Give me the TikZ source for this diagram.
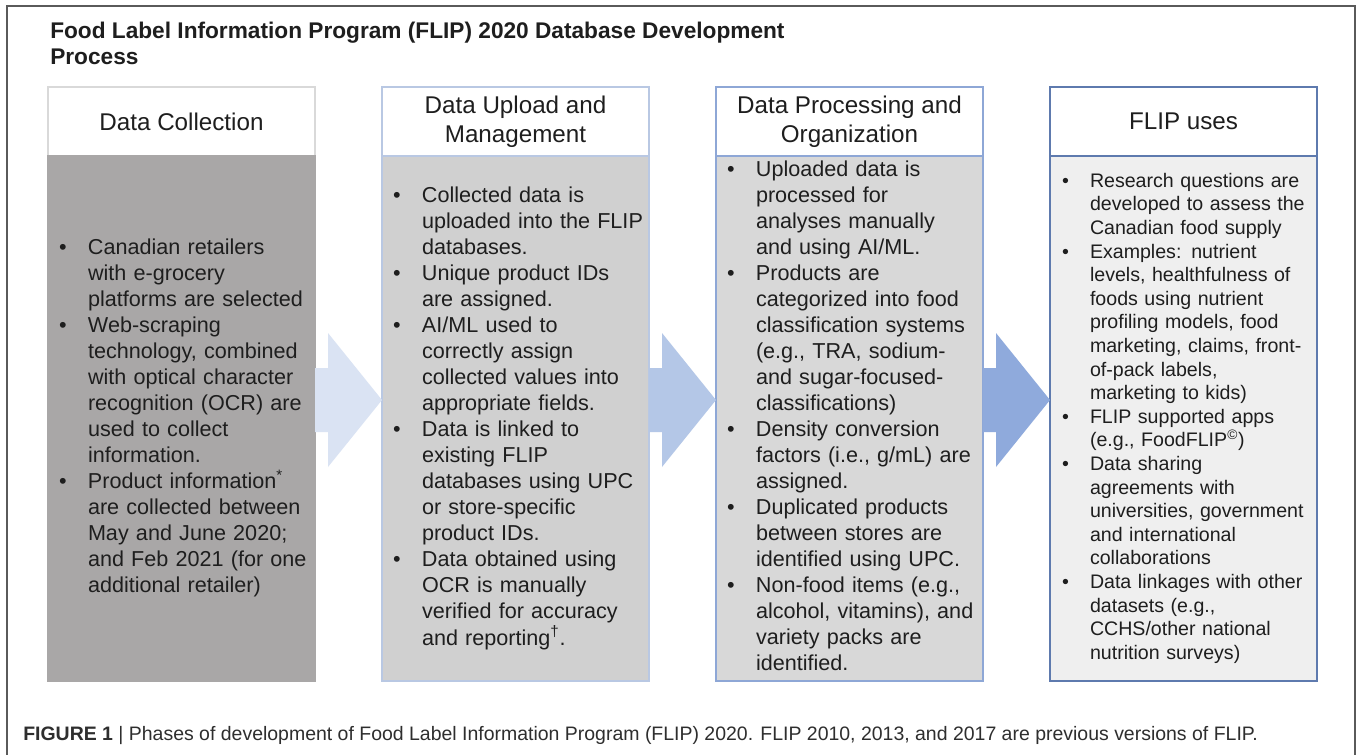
\documentclass[tikz,border=0pt]{standalone}
\usepackage{fontspec}
\setmainfont{Liberation Sans}
\usetikzlibrary{positioning,calc}

\definecolor{framegray}{HTML}{5A5A5A}
\definecolor{inkdark}{HTML}{1E1E1E}
\definecolor{capgray}{HTML}{2E2E2E}
\definecolor{collectfill}{HTML}{A9A7A7}
\definecolor{collectline}{HTML}{D9D9D9}
\definecolor{uploadfill}{HTML}{D0D0D0}
\definecolor{uploadline}{HTML}{B9C8E3}
\definecolor{processfill}{HTML}{D8D8D8}
\definecolor{processline}{HTML}{8EA7D6}
\definecolor{usesfill}{HTML}{EFEFEF}
\definecolor{usesline}{HTML}{5E7AAE}
\definecolor{flowA}{HTML}{DAE3F3}
\definecolor{flowB}{HTML}{B4C7E7}
\definecolor{flowC}{HTML}{8FAADC}

\newcommand\titlesize{\fontsize{17}{19.5}\selectfont}
\newcommand\headsize{\fontsize{18.15}{21.8}\selectfont}
\newcommand\bodysize{\fontsize{16.2}{19.5}\selectfont}
\newcommand\usessize{\fontsize{14.7}{17.7}\selectfont}
\newcommand\capsize{\fontsize{14.6}{17}\selectfont}

\begin{document}
\begin{tikzpicture}[
  x=0.75pt,y=-0.75pt,
  node distance=0pt and 50.25pt,
  head/.style={draw,fill=white,line width=0.9pt,outer sep=0pt,inner sep=0pt,minimum width=200.25pt,minimum height=51.75pt,align=center,font=\headsize,text=inkdark},
  body/.style={draw,line width=0.9pt,outer sep=0pt,inner xsep=8.25pt,inner ysep=0pt,minimum width=200.25pt,minimum height=393.75pt,text width=183.75pt,align=left,font=\bodysize,text=inkdark}
]
  \useasboundingbox (0,0) rectangle (1357,754);
  \fill[white] (0,0) rectangle (1357,754);
  \draw[framegray,line width=1.1pt] (7,760) -- (7,6) -- (1355,6) -- (1355,760);

  \node[anchor=north west,align=left,inner sep=0pt,font=\titlesize\bfseries,text=inkdark] (title) at (50,22)
    {Food Label Information Program (FLIP) 2020 Database Development\\Process};

  % phase headers
  \node[head,draw=collectline] (head1) at (181.5,121.5) {Data Collection};
  \node[head,draw=uploadline,right=of head1] (head2) {Data Upload and\\Management};
  \node[head,draw=processline,right=of head2] (head3) {Data Processing and\\Organization};
  \node[head,draw=usesline,right=of head3] (head4) {FLIP uses};

  % phase contents
  \node[body,fill=collectfill,draw=collectfill,below=of head1] (body1) {\noindent
    \begin{tabular}{@{}p{21.75pt}@{}l@{}}
    • & Canadian retailers\\
      & with e-grocery\\
      & platforms are selected\\
    • & Web-scraping\\
      & technology, combined\\
      & with optical character\\
      & recognition (OCR) are\\
      & used to collect\\
      & information.\\
    • & Product information\textsuperscript{*}\\
      & are collected between\\
      & May and June 2020;\\
      & and Feb 2021 (for one\\
      & additional retailer)
    \end{tabular}};
  \node[body,fill=uploadfill,draw=uploadline,below=of head2] (body2) {\noindent
    \begin{tabular}{@{}p{21.75pt}@{}l@{}}
    • & Collected data is\\
      & uploaded into the FLIP\\
      & databases.\\
    • & Unique product IDs\\
      & are assigned.\\
    • & AI/ML used to\\
      & correctly assign\\
      & collected values into\\
      & appropriate fields.\\
    • & Data is linked to\\
      & existing FLIP\\
      & databases using UPC\\
      & or store-specific\\
      & product IDs.\\
    • & Data obtained using\\
      & OCR is manually\\
      & verified for accuracy\\
      & and reporting\textsuperscript{†}.
    \end{tabular}};
  \node[body,fill=processfill,draw=processline,below=of head3] (body3) {\noindent
    \begin{tabular}{@{}p{21.75pt}@{}l@{}}
    • & Uploaded data is\\
      & processed for\\
      & analyses manually\\
      & and using AI/ML.\\
    • & Products are\\
      & categorized into food\\
      & classification systems\\
      & (e.g., TRA, sodium-\\
      & and sugar-focused-\\
      & classifications)\\
    • & Density conversion\\
      & factors (i.e., g/mL) are\\
      & assigned.\\
    • & Duplicated products\\
      & between stores are\\
      & identified using UPC.\\
    • & Non-food items (e.g.,\\
      & alcohol, vitamins), and\\
      & variety packs are\\
      & identified.
    \end{tabular}};
  \node[body,fill=usesfill,draw=usesline,below=of head4,inner xsep=9pt,text width=182.25pt,font=\usessize] (body4) {\noindent
    \begin{tabular}{@{}p{21pt}@{}l@{}}
    • & Research questions are\\
      & developed to assess the\\
      & Canadian food supply\\
    • & Examples: nutrient\\
      & levels, healthfulness of\\
      & foods using nutrient\\
      & profiling models, food\\
      & marketing, claims, front-\\
      & of-pack labels,\\
      & marketing to kids)\\
    • & FLIP supported apps\\
      & (e.g., FoodFLIP\textsuperscript{©})\\
    • & Data sharing\\
      & agreements with\\
      & universities, government\\
      & and international\\
      & collaborations\\
    • & Data linkages with other\\
      & datasets (e.g.,\\
      & CCHS/other national\\
      & nutrition surveys)
    \end{tabular}};

  % block arrows between phases
  \foreach \from/\to/\shade in {body1/body2/flowA,body2/body3/flowB,body3/body4/flowC}
    \fill[\shade] ($(\from.east)+(0,-50.5)$) -- ($(\to.west)+(-54,-50.5)$) -- ($(\to.west)+(-54,-85.5)$)
      -- ($(\to.west)+(0,-18.5)$) -- ($(\to.west)+(-54,48.5)$) -- ($(\to.west)+(-54,13.5)$)
      -- ($(\from.east)+(0,13.5)$) -- cycle;

  \node[anchor=base west,inner sep=0pt,font=\capsize,text=capgray] (caption) at (23,740)
    {\textbf{FIGURE 1} | Phases of development of Food Label Information Program (FLIP) 2020. FLIP 2010, 2013, and 2017 are previous versions of FLIP.};
\end{tikzpicture}
\end{document}
